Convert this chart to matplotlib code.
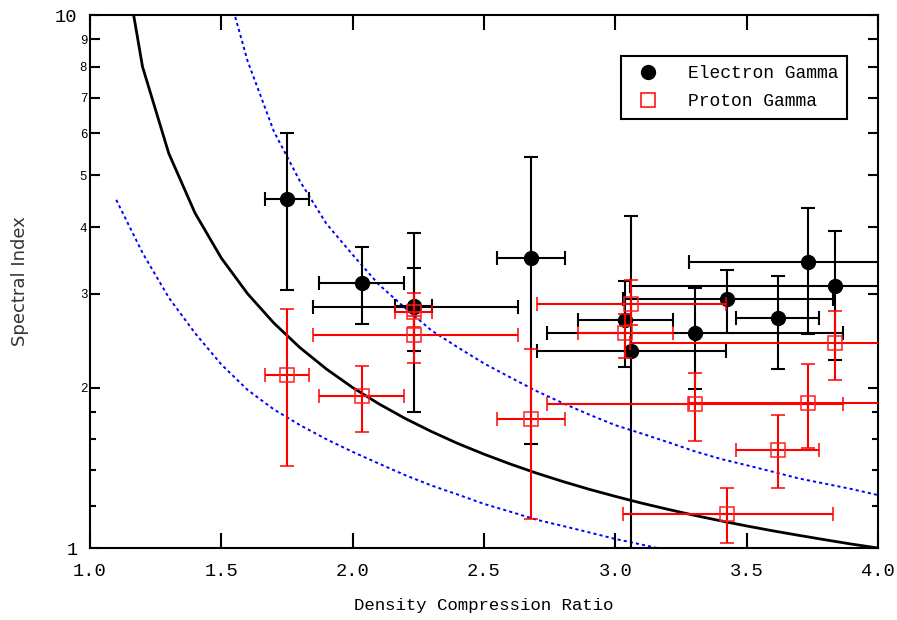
import numpy as np
import matplotlib.pyplot as plt
from matplotlib.lines import Line2D
from matplotlib.ticker import FixedLocator, NullFormatter

# compression ratio of each object and its range
r_obs = [1.75, 2.035, 2.233, 2.233, 2.68, 3.037, 3.06, 3.303, 3.425, 3.62, 3.733, 3.836]
r_lo = [1.666, 1.872, 2.161, 1.849, 2.549, 2.858, 2.70, 2.74, 3.03, 3.46, 3.28, 3.056]
r_hi = [1.834, 2.195, 2.302, 2.629, 2.808, 3.220, 3.42, 3.867, 3.83, 3.775, 4.19, 4.62]

# electron spectral index with lower/upper limits
gam_e = [4.52, 3.14, 2.85, 2.83, 3.50, 2.68, 2.34, 2.53, 2.93, 2.70, 3.44, 3.10]
gam_e_lo = [3.05, 2.63, 2.34, 1.80, 1.57, 2.19, 0.90, 1.99, 2.53, 2.17, 2.52, 2.25]
gam_e_hi = [6.00, 3.67, 3.35, 3.90, 5.41, 3.17, 4.20, 3.07, 3.32, 3.24, 4.34, 3.93]

# proton spectral index with lower/upper limits
gam_p = [2.11, 1.93, 2.77, 2.51, 1.746, 2.53, 2.87, 1.86, 1.158, 1.53, 1.87, 2.42]
gam_p_lo = [1.425, 1.65, 2.60, 2.22, 1.134, 2.27, 2.62, 1.59, 1.02, 1.296, 1.54, 2.07]
gam_p_hi = [2.81, 2.195, 3.01, 2.72, 2.36, 2.75, 3.18, 2.13, 1.296, 1.78, 2.21, 2.785]

# theory curve (r+2)/(2(r-1)) tabulated every 0.1
r_th = [1.1, 1.2, 1.3, 1.4, 1.5, 1.6, 1.7, 1.8, 1.9, 2.0, 2.1, 2.2, 2.3, 2.4, 2.5,
        2.6, 2.7, 2.8, 2.9, 3.0, 3.1, 3.2, 3.3, 3.4, 3.5, 3.6, 3.7, 3.8, 3.9, 4.0]
alpha_th = [15.5, 8.0, 5.5, 4.25, 3.5, 3.0, 2.643, 2.375, 2.167, 2.0, 1.864, 1.75, 1.654, 1.571, 1.5,
            1.4375, 1.382, 1.333, 1.289, 1.25, 1.214, 1.182, 1.152, 1.125, 1.1, 1.077, 1.056, 1.036, 1.017, 1.0]

# upper and lower bounds
r_up = [1.5, 1.6, 1.7, 1.8, 1.9, 2.0, 2.1, 2.2, 2.3, 2.4, 2.5, 2.6, 2.7,
        2.8, 2.9, 3.0, 3.1, 3.2, 3.3, 3.4, 3.5, 3.6, 3.7, 3.8, 3.9, 4.0]
alpha_up = [12.3, 8.2, 6.05, 4.87, 4.06, 3.55, 3.12, 2.82, 2.56, 2.38, 2.22, 2.09, 1.97,
            1.87, 1.78, 1.70, 1.64, 1.58, 1.52, 1.47, 1.43, 1.39, 1.35, 1.32, 1.29, 1.257]
r_dn = [1.1, 1.2, 1.3, 1.4, 1.5, 1.6, 1.7, 1.8, 1.9, 2.0, 2.1, 2.2,
        2.3, 2.4, 2.5, 2.6, 2.7, 2.8, 2.9, 3.0, 3.1, 3.2, 3.3]
alpha_dn = [4.5, 3.58, 2.95, 2.53, 2.21, 1.98, 1.82, 1.70, 1.60, 1.515, 1.44, 1.37,
            1.31, 1.26, 1.21, 1.17, 1.13, 1.10, 1.07, 1.04, 1.015, 0.99, 0.97]

mono = 'Liberation Mono'

fig = plt.figure(figsize=(8.97, 6.2), dpi=100)
ax = fig.add_axes([0.1003, 0.1161, 0.8785, 0.8597])

ax.plot(r_th, alpha_th, color='black', lw=2.0, zorder=3)
ax.plot(r_up, alpha_up, color='#0000ff', lw=1.4, ls=(0, (1.6, 1.6)), zorder=2)
ax.plot(r_dn, alpha_dn, color='#0000ff', lw=1.4, ls=(0, (1.6, 1.6)), zorder=2)

r = np.array(r_obs)
xerr = [r - np.array(r_lo), np.array(r_hi) - r]
ge = np.array(gam_e)
gp = np.array(gam_p)
yerr_e = [ge - np.array(gam_e_lo), np.array(gam_e_hi) - ge]
yerr_p = [gp - np.array(gam_p_lo), np.array(gam_p_hi) - gp]

ax.errorbar(r, ge, xerr=xerr, yerr=yerr_e, fmt='o', color='black', ms=10,
            elinewidth=1.5, capsize=5, capthick=1.5, zorder=4)
ax.errorbar(r, gp, xerr=xerr, yerr=yerr_p, fmt='s', color='red', mfc='none', mec='#ff2020',
            mew=1.1, ms=10, elinewidth=1.5, capsize=5, capthick=1.5, zorder=5)

ax.set_xlim(1.0, 4.0)
ax.set_yscale('log')
ax.set_ylim(1, 10)

ax.set_xticks([1.0, 1.5, 2.0, 2.5, 3.0, 3.5, 4.0])
ax.set_xticklabels(['1.0', '1.5', '2.0', '2.5', '3.0', '3.5', '4.0'], family=mono, fontsize=13.5)
yt = [1, 2, 3, 4, 5, 6, 7, 8, 9, 10]
ax.yaxis.set_major_locator(FixedLocator(yt))
ax.yaxis.set_minor_locator(FixedLocator([1.2, 1.4, 1.6, 1.8]))
ax.yaxis.set_minor_formatter(NullFormatter())
ax.set_yticklabels([str(v) for v in yt], family=mono)
for t, lbl in zip(ax.yaxis.get_major_ticks(), ax.get_yticklabels()):
    if lbl.get_text() in ('1', '10'):
        lbl.set_fontsize(13.5)
        t.set_pad(9)
    else:
        lbl.set_fontsize(9)
        t.set_pad(2)

ax.tick_params(which='both', direction='in', top=True, right=True, width=1.5, color='black')
ax.tick_params(axis='x', length=11, pad=11)
ax.tick_params(axis='y', which='major', length=7)
ax.tick_params(axis='y', which='minor', length=4)
for s in ax.spines.values():
    s.set_linewidth(1.5)

ax.set_xlabel('Density Compression Ratio', family=mono, fontsize=12.5, labelpad=13)
ax.set_ylabel('Spectral Index', family='DejaVu Sans', fontsize=13, color='#333333', labelpad=19)

h = [Line2D([], [], ls='none', marker='o', color='black', ms=10),
     Line2D([], [], ls='none', marker='s', mfc='none', mec='red', mew=1.1, ms=10)]
leg = ax.legend(h, ['Electron Gamma', 'Proton Gamma'], loc='upper right',
                bbox_to_anchor=(0.961, 0.923), prop={'family': mono, 'size': 13},
                fancybox=False, edgecolor='black', framealpha=1, borderpad=0.5,
                handletextpad=1.2, labelspacing=0.62, borderaxespad=0)
leg.get_frame().set_linewidth(1.5)

fig.savefig('out.png', dpi=100)
